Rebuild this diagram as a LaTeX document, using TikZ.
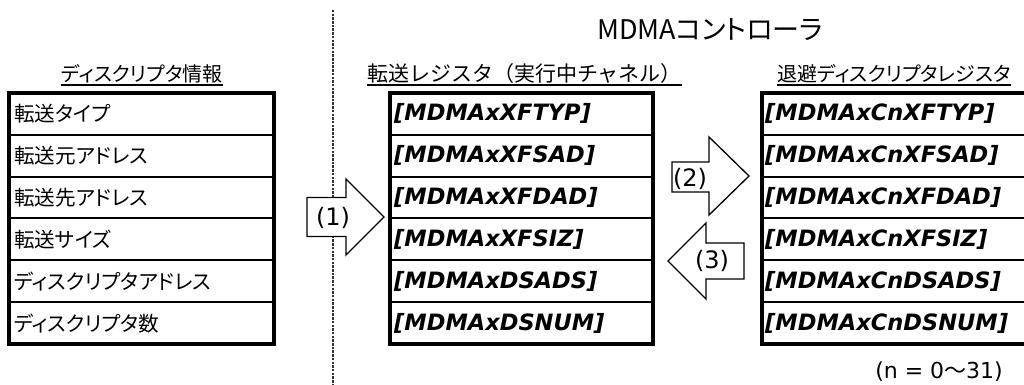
\documentclass[tikz,border=0pt]{standalone}
\usepackage{fontspec}
\newfontfamily\jp{Noto Sans CJK JP}[RawFeature=+palt]
\newfontfamily\jpfw{Noto Sans CJK JP}
\newfontfamily\regf{DejaVu Sans Bold Oblique}
\newfontfamily\latf{DejaVu Sans}
\begin{document}
\begin{tikzpicture}[x=1pt,y=-1pt,
  cell/.style={anchor=west, inner sep=0pt, font=\jp\fontsize{20.6}{20.6}\selectfont},
  reg/.style={anchor=west, inner sep=0pt, font=\regf\fontsize{22.5}{22.5}\selectfont},
  hdr/.style={inner sep=0pt, font=\jp\fontsize{20}{20}\selectfont},
  hdrfw/.style={inner sep=0pt, font=\jpfw\fontsize{21}{21}\selectfont},
  title/.style={inner sep=0pt, font=\jp\fontsize{27}{27}\selectfont},
  lab/.style={inner sep=0pt, font=\latf\fontsize{24}{24}\selectfont},
  notef/.style={inner sep=0pt, font=\latf\fontsize{22}{22}\selectfont},
  blk/.style={draw=black, fill=white, line width=1.3pt, line join=miter},
  outerbox/.style={draw=black, line width=3.3pt},
  divl/.style={draw=black, line width=2pt},
  uline/.style={draw=black, line width=1.4pt},
  sepline/.style={draw=black!80, line width=1.8pt, dash pattern=on 2.5pt off 1.2pt}]
\useasboundingbox (0,0) rectangle (1024,385);
\clip (0,0) rectangle (1024,385);
\fill[white] (0,0) rectangle (1024,385);

% separator
\coordinate (s1) at (333,10);
\coordinate (s2) at (333,385);
\draw[sepline] (s1) -- (s2);

% title
\node[title] (title) at (710,30) {MDMAコントローラ};

% headers
\node[hdr] (hL) at (142,74) {ディスクリプタ情報};
\node[hdrfw,anchor=west] (hM) at (367,74) {転送レジスタ（実行中チャネル）};
\node[hdr,anchor=west] (hR) at (777,74) {退避ディスクリプタレジスタ};
\draw[uline] (hL.west |- 0,85) -- (hL.east |- 0,85);
\draw[uline] (hM.west |- 0,85) -- (hM.east |- 0,85);
\draw[uline] (hR.west |- 0,85) -- (hR.east |- 0,85);

% tables grid
\foreach \xa/\xb in {9/274, 390/653, 762/1040}{
  \foreach \k in {1,...,5}{
    \draw[divl] (\xa,93+41.83*\k) -- (\xb,93+41.83*\k);
  }
  \draw[outerbox] (\xa,93) rectangle (\xb,344);
}

% left table texts
\foreach \t [count=\i] in {転送タイプ, 転送元アドレス, 転送先アドレス, 転送サイズ, ディスクリプタアドレス, ディスクリプタ数}{
  \node[cell] (L\i) at (14,93+41.83*\i-20.9) {\t};
}
% middle table texts
\foreach \t [count=\i] in {XFTYP, XFSAD, XFDAD, XFSIZ, DSADS, DSNUM}{
  \node[reg] (M\i) at (394,93+41.83*\i-20.9) {[MDMAx\t]};
}
% right table texts
\foreach \t [count=\i] in {XFTYP, XFSAD, XFDAD, XFSIZ, DSADS, DSNUM}{
  \node[reg] (R\i) at (765,93+41.83*\i-20.9) {[MDMAxCn\t]};
}

% block arrows
\draw[blk] (307,197.5) -- (346,197.5) -- (346,179) -- (384,217) -- (346,255) -- (346,236.5) -- (307,236.5) -- cycle;
\node[lab] (a1) at (333,218) {(1)};
\draw[blk] (672,162) -- (709,162) -- (709,137) -- (749,176) -- (709,215) -- (709,192) -- (672,192) -- cycle;
\node[lab] (a2) at (690,179) {(2)};
\draw[blk] (668,261) -- (706,223) -- (706,243) -- (744,243) -- (744,279) -- (706,279) -- (706,299) -- cycle;
\node[lab] (a3) at (712,261) {(3)};

% note
\node[notef] (note) at (939,372) {(n = 0{\jpfw 〜}31)};
\end{tikzpicture}
\end{document}
